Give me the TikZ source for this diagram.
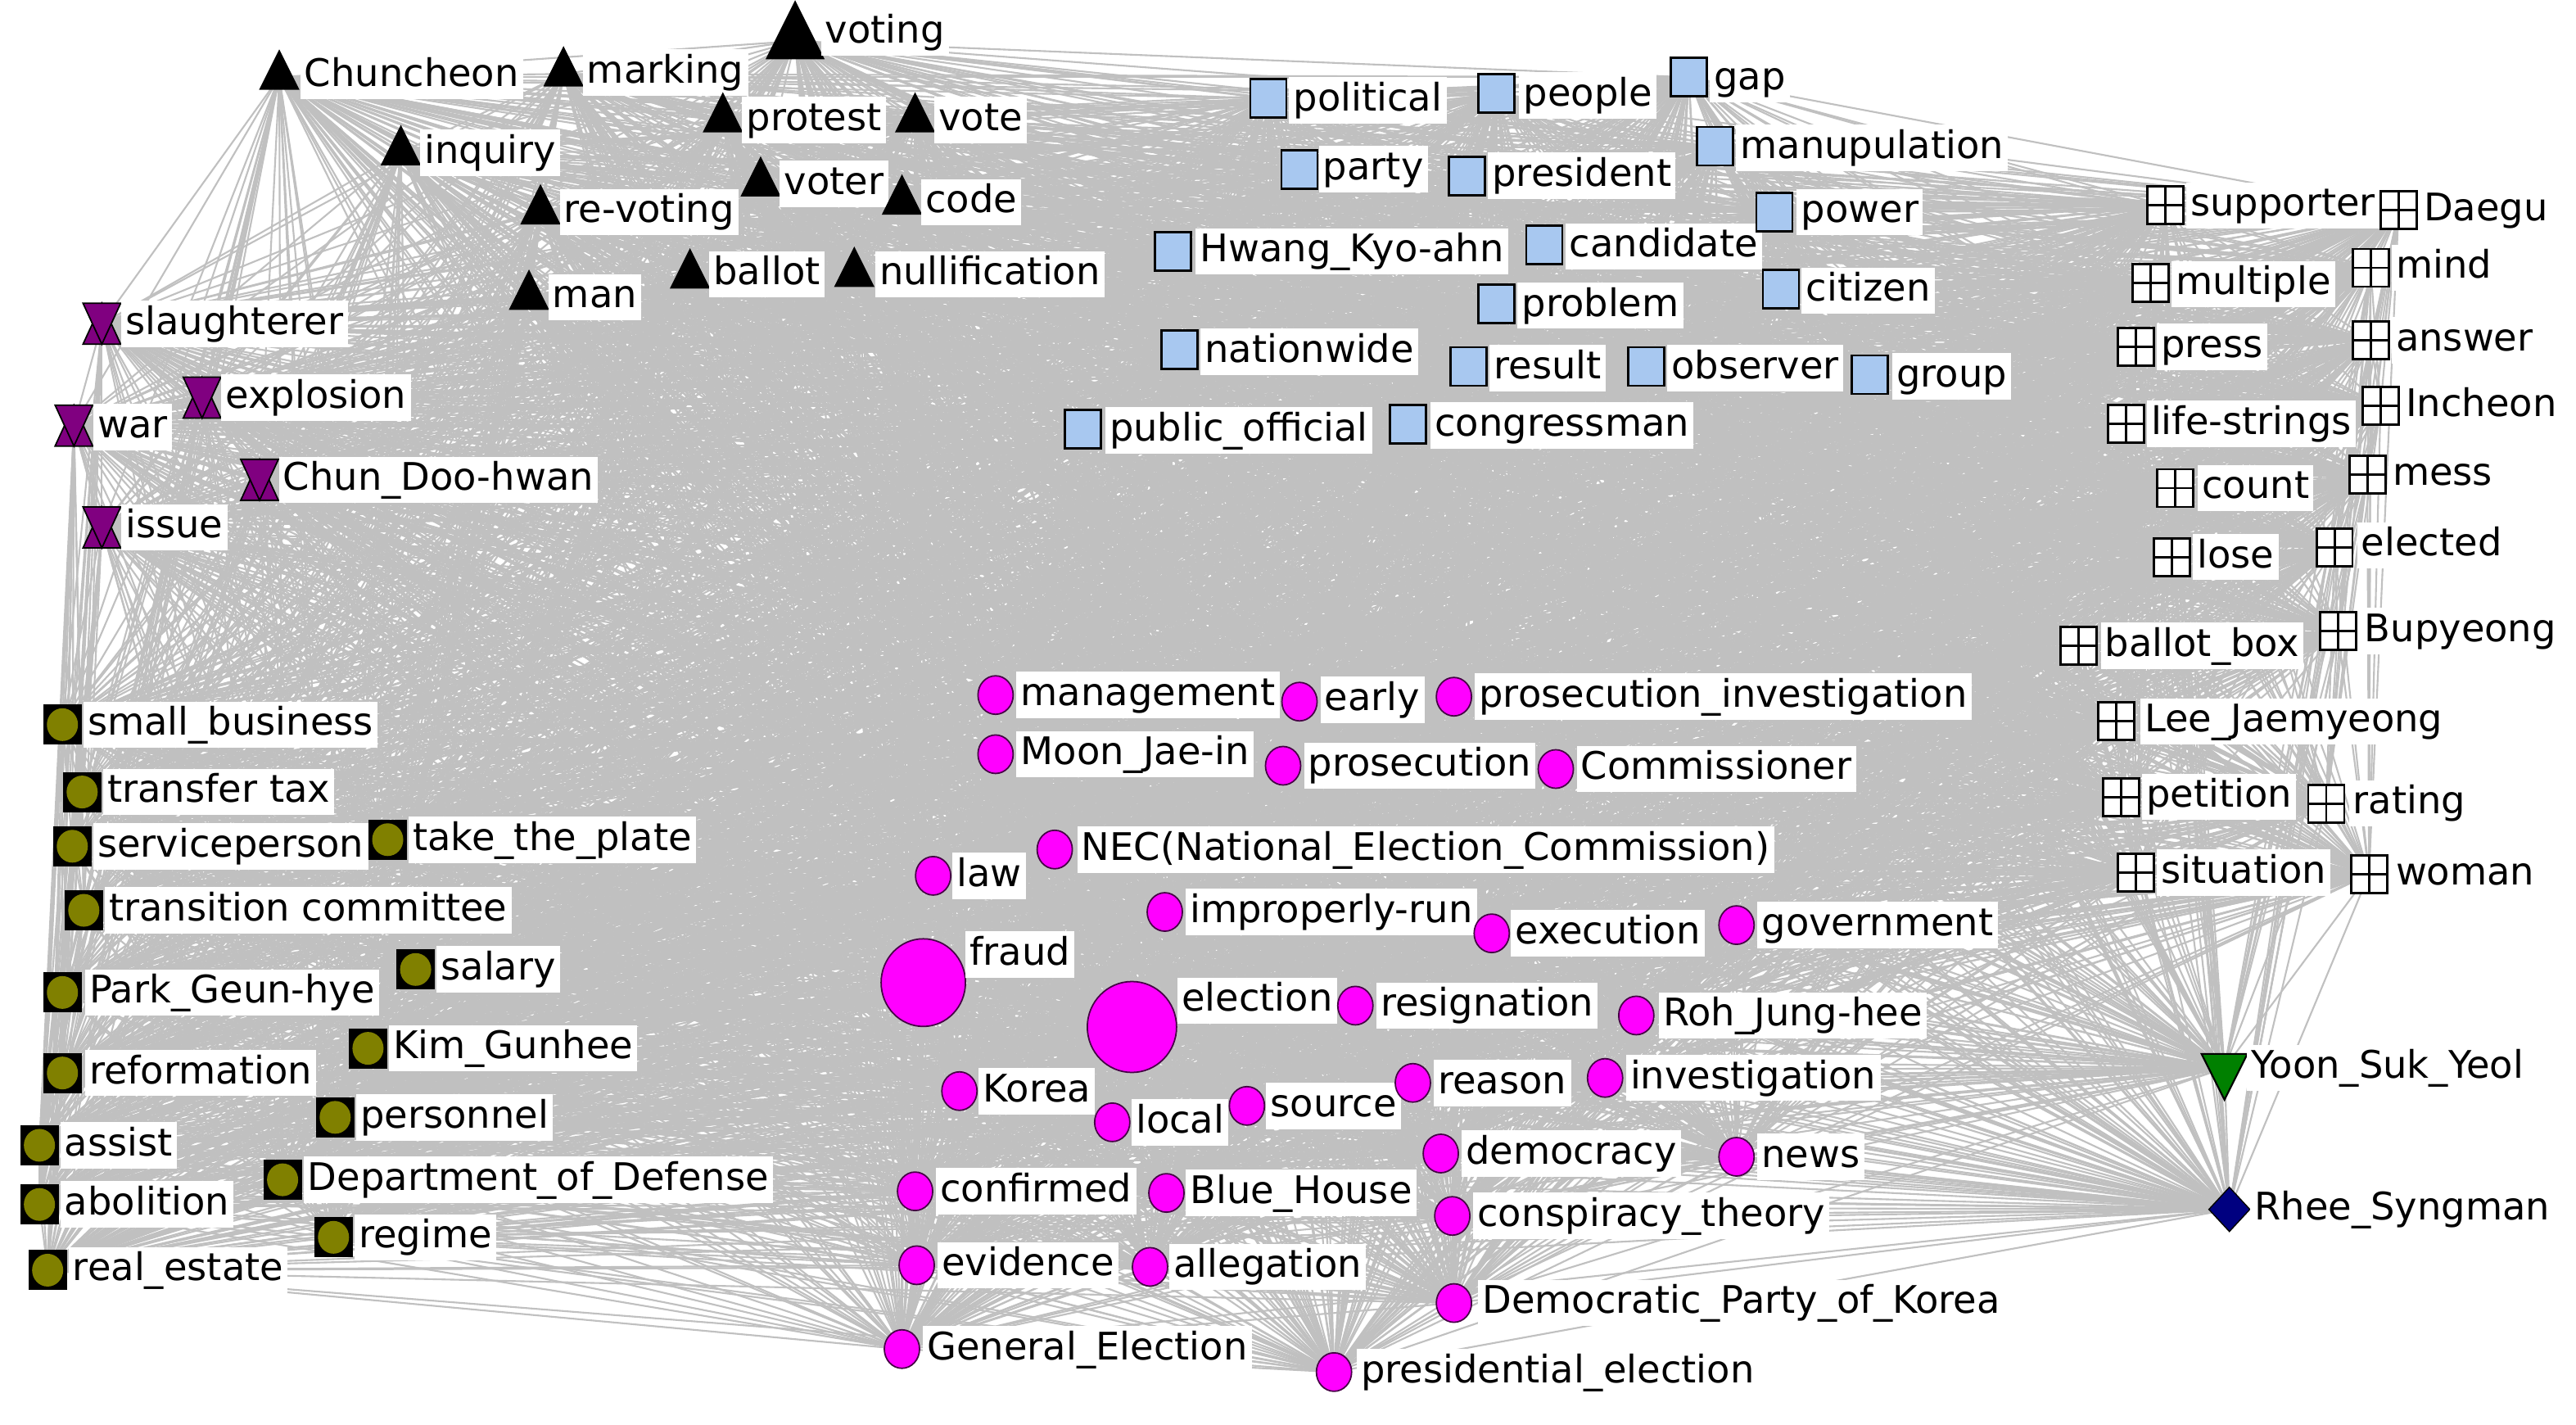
\documentclass[tikz,border=0pt]{standalone}
\usepackage{fontspec}
\setmainfont{DejaVu Sans}
\usetikzlibrary{shapes.geometric}
\definecolor{edgegray}{RGB}{192,192,192}
\definecolor{sqblue}{RGB}{168,200,240}
\definecolor{hgpurple}{RGB}{128,0,128}
\definecolor{olivec}{RGB}{128,128,0}
\definecolor{magc}{RGB}{255,0,255}
\definecolor{magedge}{RGB}{70,0,70}
\definecolor{yoongreen}{RGB}{0,128,0}
\definecolor{rheenavy}{RGB}{0,0,128}
\pgfdeclarelayer{bgfill}
\pgfdeclarelayer{edges}
\pgfsetlayers{bgfill,edges,main}
\tikzset{
  lab/.style={anchor=west, xshift=-1.5pt, fill=white, inner xsep=1.5pt, inner ysep=1.2pt,
    text height=10.5pt, text depth=3.2pt, font=\fontsize{13.2}{15}\selectfont},
  edge/.style={draw=edgegray, line width=0.6pt},
  mkbase/.style={inner sep=0pt, outer sep=0pt},
  tri/.style={mkbase, isosceles triangle, isosceles triangle stretches, shape border rotate=90,
    minimum width=0.47cm, minimum height=0.47cm, fill=black, draw=black},
  bigtri/.style={tri, minimum width=0.70cm, minimum height=0.70cm},
  invtri/.style={mkbase, isosceles triangle, isosceles triangle stretches, shape border rotate=270,
    minimum width=0.56cm, minimum height=0.56cm, fill=yoongreen, draw=black, line width=0.6pt},
  dia/.style={mkbase, diamond, minimum width=0.50cm, minimum height=0.54cm, fill=rheenavy, draw=black, line width=0.4pt},
  sq/.style={mkbase, rectangle, minimum width=0.44cm, minimum height=0.47cm, fill=sqblue, draw=black, line width=0.8pt},
  grid/.style={mkbase, rectangle, minimum width=0.44cm, minimum height=0.46cm, fill=white, draw=black, line width=0.8pt,
    path picture={\draw[line width=0.8pt] (path picture bounding box.north) -- (path picture bounding box.south)
      (path picture bounding box.west) -- (path picture bounding box.east);}},
  ol/.style={mkbase, rectangle, minimum width=0.47cm, minimum height=0.49cm, fill=black,
    path picture={\fill[olivec] (path picture bounding box.center) ellipse [x radius=0.19cm, y radius=0.20cm];}},
  mg/.style={mkbase, ellipse, minimum width=0.43cm, minimum height=0.47cm, fill=magc, draw=magedge, line width=0.5pt},
  mgbig/.style={mg, minimum width=1.03cm, minimum height=1.07cm},
  mghuge/.style={mg, minimum width=1.09cm, minimum height=1.11cm},
  hg/.style={mkbase, rectangle, minimum width=0.50cm, minimum height=0.54cm,
    path picture={
      \filldraw[fill=hgpurple, draw=black, line width=0.5pt]
        ([shift={(0.02cm,0.02cm)}]path picture bounding box.south west) --
        ([shift={(-0.02cm,0.02cm)}]path picture bounding box.south east) --
        ([yshift=-0.02cm]path picture bounding box.north) -- cycle;
      \filldraw[fill=hgpurple, draw=black, line width=0.5pt]
        ([shift={(0.02cm,-0.02cm)}]path picture bounding box.north west) --
        ([shift={(-0.02cm,-0.02cm)}]path picture bounding box.north east) --
        ([yshift=0.02cm]path picture bounding box.south) -- cycle;}}
}
% marker style, name, x, y, label x, label y, text
\newcommand\nd[7]{\node[#1] (#2) at (#3,#4) {};\node[lab] (#2-l) at (#5,#6) {#7};}
\def\allnodes{voting,chuncheon,marking,protest,vote,inquiry,voter,revoting,code,man,ballot,nullification,%
political,people,gap,party,president,manupulation,hwang,candidate,power,problem,citizen,nationwide,result,observer,group,publicofficial,congressman,%
slaughterer,explosion,war,chun,issue,%
supporter,daegu,multiple,mind,press,answer,lifestrings,incheon,count,mess,lose,elected,ballotbox,bupyeong,leejm,petition,rating,situation,woman,%
smallbusiness,transfertax,serviceperson,takeplate,transition,salary,park,kim,reformation,personnel,assist,abolition,defense,regime,realestate,%
management,early,prosinv,moon,prosecution,commissioner,law,nec,improperly,execution,government,fraud,election,resignation,roh,korea,local,source,reason,investigation,democracy,news,confirmed,bluehouse,conspiracy,evidence,allegation,democratic,general,presidential,%
yoon,rhee}
\begin{document}
\begin{tikzpicture}[x=0.02006cm, y=-0.02006cm]
\useasboundingbox (0,0) rectangle (1568,867);
\begin{pgfonlayer}{bgfill}
\fill[white] (0,0) rectangle (1568,867);
\end{pgfonlayer}
% triangles
\nd{bigtri}{voting}{484}{25}{502}{20}{voting}
\nd{tri}{chuncheon}{170}{47}{185}{46}{Chuncheon}
\nd{tri}{marking}{343}{45}{357}{44}{marking}
\nd{tri}{protest}{440}{73}{454}{73}{protest}
\nd{tri}{vote}{557}{73}{571}{73}{vote}
\nd{tri}{inquiry}{244}{93}{258}{93}{inquiry}
\nd{tri}{voter}{463}{112}{477}{112}{voter}
\nd{tri}{revoting}{329}{129}{343}{129}{re-voting}
\nd{tri}{code}{549}{123}{563}{123}{code}
\nd{tri}{man}{322}{181}{336}{181}{man}
\nd{tri}{ballot}{420}{168}{434}{167}{ballot}
\nd{tri}{nullification}{520}{167}{535}{167}{nullification}
% blue squares
\nd{sq}{political}{772}{60}{787}{61}{political}
\nd{sq}{people}{911}{57}{927}{58}{people}
\nd{sq}{gap}{1028}{47}{1043}{48}{gap}
\nd{sq}{party}{791}{103}{805}{103}{party}
\nd{sq}{president}{893}{107}{908}{107}{president}
\nd{sq}{manupulation}{1044}{89}{1059}{90}{manupulation}
\nd{sq}{hwang}{714}{153}{730}{153}{Hwang\_Kyo-ahn}
\nd{sq}{candidate}{940}{149}{955}{150}{candidate}
\nd{sq}{power}{1080}{129}{1096}{129}{power}
\nd{sq}{problem}{911}{185}{926}{186}{problem}
\nd{sq}{citizen}{1084}{176}{1099}{177}{citizen}
\nd{sq}{nationwide}{718}{213}{733}{214}{nationwide}
\nd{sq}{result}{894}{223}{909}{224}{result}
\nd{sq}{observer}{1002}{223}{1017}{224}{observer}
\nd{sq}{group}{1138}{228}{1154}{229}{group}
\nd{sq}{publicofficial}{659}{261}{675}{262}{public\_official}
\nd{sq}{congressman}{857}{258}{873}{259}{congressman}
% hourglasses
\nd{hg}{slaughterer}{62}{197}{76}{197}{slaughterer}
\nd{hg}{explosion}{123}{242}{137}{242}{explosion}
\nd{hg}{war}{45}{259}{59}{260}{war}
\nd{hg}{chun}{158}{292}{172}{292}{Chun\_Doo-hwan}
\nd{hg}{issue}{62}{321}{76}{321}{issue}
% grid squares
\nd{grid}{supporter}{1318}{125}{1333}{125}{supporter}
\nd{grid}{daegu}{1460}{128}{1475}{128}{Daegu}
\nd{grid}{multiple}{1309}{172}{1324}{173}{multiple}
\nd{grid}{mind}{1443}{163}{1458}{163}{mind}
\nd{grid}{press}{1300}{211}{1315}{211}{press}
\nd{grid}{answer}{1443}{207}{1458}{207}{answer}
\nd{grid}{lifestrings}{1294}{258}{1309}{258}{life-strings}
\nd{grid}{incheon}{1449}{247}{1464}{247}{Incheon}
\nd{grid}{count}{1324}{297}{1340}{297}{count}
\nd{grid}{mess}{1441}{289}{1456}{289}{mess}
\nd{grid}{lose}{1322}{339}{1337}{339}{lose}
\nd{grid}{elected}{1421}{333}{1437}{332}{elected}
\nd{grid}{ballotbox}{1265}{393}{1281}{393}{ballot\_box}
\nd{grid}{bupyeong}{1423}{384}{1439}{384}{Bupyeong}
\nd{grid}{leejm}{1288}{439}{1305}{439}{Lee\_Jaemyeong}
\nd{grid}{petition}{1291}{485}{1306}{485}{petition}
\nd{grid}{rating}{1416}{489}{1432}{489}{rating}
\nd{grid}{situation}{1300}{531}{1315}{531}{situation}
\nd{grid}{woman}{1442}{532}{1458}{532}{woman}
% olive
\nd{ol}{smallbusiness}{38}{441}{53}{441}{small\_business}
\nd{ol}{transfertax}{50}{482}{65}{482}{transfer tax}
\nd{ol}{serviceperson}{44}{515}{59}{515}{serviceperson}
\nd{ol}{takeplate}{236}{511}{251}{511}{take\_the\_plate}
\nd{ol}{transition}{51}{554}{66}{554}{transition committee}
\nd{ol}{salary}{253}{590}{268}{590}{salary}
\nd{ol}{park}{38}{604}{54}{604}{Park\_Geun-hye}
\nd{ol}{kim}{224}{638}{239}{638}{Kim\_Gunhee}
\nd{ol}{reformation}{38}{653}{54}{653}{reformation}
\nd{ol}{personnel}{204}{680}{219}{680}{personnel}
\nd{ol}{assist}{24}{697}{39}{697}{assist}
\nd{ol}{abolition}{24}{733}{39}{733}{abolition}
\nd{ol}{defense}{172}{718}{187}{718}{Department\_of\_Defense}
\nd{ol}{regime}{203}{753}{218}{753}{regime}
\nd{ol}{realestate}{29}{773}{44}{773}{real\_estate}
% magenta
\nd{mg}{management}{606}{423}{621}{423}{management}
\nd{mg}{early}{791}{427}{806}{426}{early}
\nd{mg}{prosinv}{885}{424}{900}{424}{prosecution\_investigation}
\nd{mg}{moon}{606}{459}{621}{459}{Moon\_Jae-in}
\nd{mg}{prosecution}{781}{466}{796}{466}{prosecution}
\nd{mg}{commissioner}{947}{468}{962}{468}{Commissioner}
\nd{mg}{law}{568}{533}{582}{533}{law}
\nd{mg}{nec}{642}{517}{658}{517}{NEC(National\_Election\_Commission)}
\nd{mg}{improperly}{709}{555}{724}{555}{improperly-run}
\nd{mg}{execution}{908}{568}{922}{568}{execution}
\nd{mg}{government}{1057}{563}{1072}{563}{government}
\nd{mgbig}{fraud}{562}{598}{590}{581}{fraud}
\nd{mghuge}{election}{689}{625}{719}{609}{election}
\nd{mg}{resignation}{825}{612}{840}{612}{resignation}
\nd{mg}{roh}{996}{618}{1012}{618}{Roh\_Jung-hee}
\nd{mg}{korea}{584}{664}{598}{664}{Korea}
\nd{mg}{local}{677}{683}{691}{683}{local}
\nd{mg}{source}{759}{673}{773}{673}{source}
\nd{mg}{reason}{860}{659}{875}{659}{reason}
\nd{mg}{investigation}{977}{656}{992}{656}{investigation}
\nd{mg}{democracy}{877}{702}{892}{702}{democracy}
\nd{mg}{news}{1057}{704}{1072}{704}{news}
\nd{mg}{confirmed}{557}{725}{572}{725}{confirmed}
\nd{mg}{bluehouse}{710}{726}{724}{726}{Blue\_House}
\nd{mg}{conspiracy}{884}{740}{899}{740}{conspiracy\_theory}
\nd{mg}{evidence}{558}{770}{573}{770}{evidence}
\nd{mg}{allegation}{700}{771}{714}{771}{allegation}
\nd{mg}{democratic}{885}{793}{902}{793}{Democratic\_Party\_of\_Korea}
\nd{mg}{general}{549}{821}{564}{821}{General\_Election}
\nd{mg}{presidential}{812}{835}{828}{835}{presidential\_election}
% special
\nd{invtri}{yoon}{1354}{650}{1370}{650}{Yoon\_Suk\_Yeol}
\nd{dia}{rhee}{1357}{736}{1372}{736}{Rhee\_Syngman}
% edges
\begin{pgfonlayer}{edges}
\foreach \a [count=\i] in \allnodes {
  \foreach \b [count=\j] in \allnodes {
    \ifnum\j>\i \draw[edge] (\a.center) -- (\b.center);\fi
  }
}
\end{pgfonlayer}
\end{tikzpicture}
\end{document}
